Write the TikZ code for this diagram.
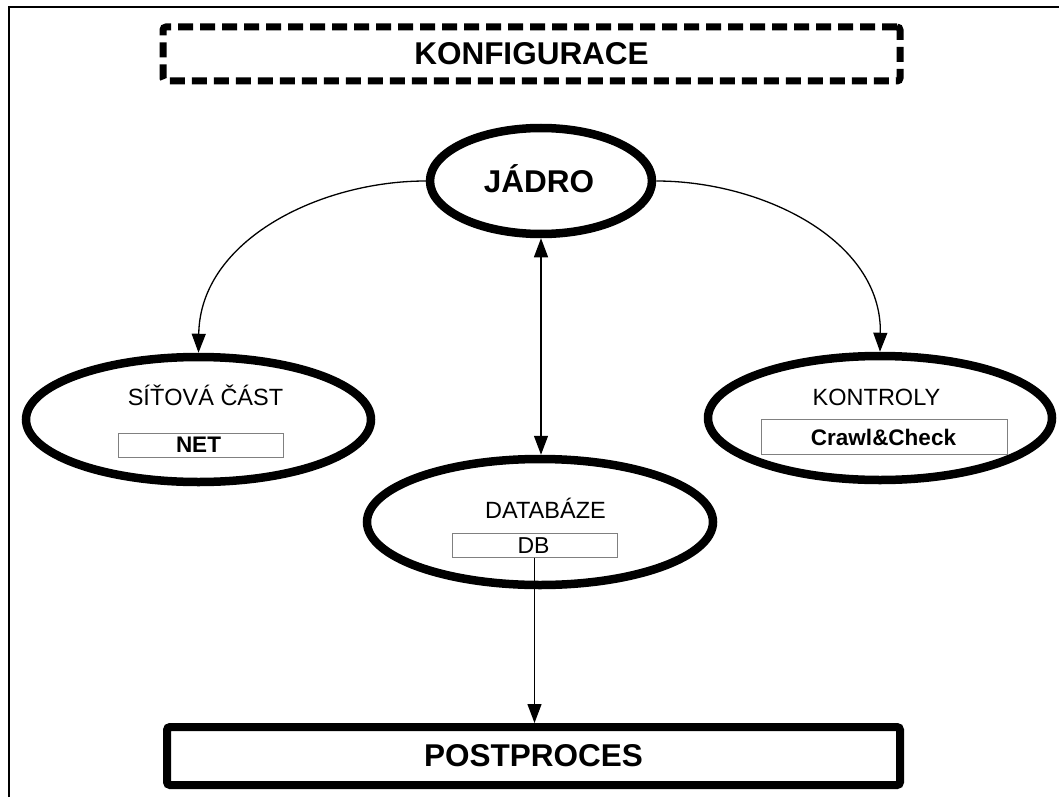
\documentclass[tikz,border=0pt]{standalone}
\usepackage{fontspec}
\setmainfont{Liberation Sans}
\usetikzlibrary{shapes.geometric,arrows.meta}
\begin{document}
\begin{tikzpicture}[x=1pt,y=-1pt,
  bigtxt/.style={font=\fontsize{31.5}{36}\selectfont\bfseries, inner sep=0pt, anchor=base},
  midtxt/.style={font=\fontsize{23.5}{28}\selectfont, inner sep=0pt, anchor=base},
  boxtxt/.style={font=\fontsize{22.5}{27}\selectfont\bfseries, inner sep=0pt, anchor=base},
  oval/.style={ellipse, draw, line width=8.5pt, inner sep=0pt, fill=white},
  subbox/.style={draw=gray, line width=1pt, fill=white, inner sep=0pt},
  conn/.style={line width=1.3pt, -{Triangle[length=19pt,width=14pt]}},
  dconn/.style={line width=1.3pt, {Triangle[length=19pt,width=14pt]}-{Triangle[length=19pt,width=14pt]}},
]
\useasboundingbox (0,0) rectangle (1059,797);
% frame
\draw[line width=1.2pt] (9,797) -- (9,7) -- (1059,7);

% configuration (dashed)
\node[draw, line width=7pt, dash pattern=on 15pt off 7pt, rounded corners=3pt,
      minimum width=737pt, minimum height=54pt, inner sep=0pt,
      font=\fontsize{31.5}{36}\selectfont\bfseries] (konf) at (531.5,54) {KONFIGURACE};

% ovals
\node[oval, minimum width=222pt, minimum height=106pt] (jadro) at (541,181) {};
\node[oval, minimum width=345pt, minimum height=125pt] (sit) at (198.5,419.5) {};
\node[oval, minimum width=344pt, minimum height=124pt] (kon) at (880,418) {};
\node[oval, minimum width=346pt, minimum height=126pt] (dbo) at (540,522) {};

% labels
\node[bigtxt] (jadrot) at (539,192) {JÁDRO};
\node[midtxt] (sitt) at (205.5,405) {SÍŤOVÁ ČÁST};
\node[midtxt] (kont) at (876.5,405) {KONTROLY};
\node[midtxt] (dbt) at (545.5,518) {DATABÁZE};

% sub boxes
\node[subbox, minimum width=165pt, minimum height=24pt] (netbox) at (200.5,445) {};
\node[boxtxt] (nett) at (198.5,452) {NET};
\node[subbox, minimum width=246pt, minimum height=35pt] (ccbox) at (884,436.5) {};
\node[boxtxt] (cct) at (883.5,445) {Crawl\&Check};
\node[subbox, minimum width=165pt, minimum height=24pt] (dbbox) at (534.5,545) {};
\node[midtxt, font=\fontsize{23}{28}\selectfont] (dbboxt) at (533.5,553) {DB};

% postprocess
\node[draw, line width=8pt, rounded corners=3pt,
      minimum width=733pt, minimum height=58pt, inner sep=0pt,
      font=\fontsize{31.5}{36}\selectfont\bfseries] (post) at (533.5,756) {POSTPROCES};

% connectors
\draw[conn] (jadro.west) .. controls (320,181) and (200,240) .. (sit.north);
\draw[conn] (jadro.east) .. controls (762,181) and (882,240) .. (kon.north);
\draw[dconn] (jadro.south) -- (jadro.south |- dbo.north);
\draw[conn] (dbbox.south) -- (dbbox.south |- post.north);
\end{tikzpicture}
\end{document}
